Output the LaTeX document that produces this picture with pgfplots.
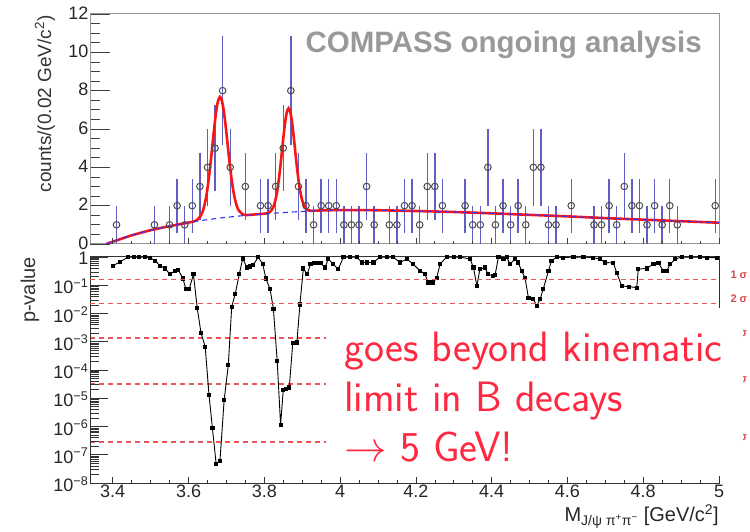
\RequirePackage{fix-cm}
\documentclass[border=0pt]{standalone}
\usepackage{pgfplots}
\usepackage{pgfplotstable}
\pgfplotsset{compat=1.18}
\usepackage{fontspec}
\setmainfont{Liberation Sans}
\definecolor{errblue}{RGB}{95,95,195}
\definecolor{fitred}{RGB}{250,20,20}
\definecolor{sigred}{RGB}{235,85,85}
\definecolor{annred}{RGB}{255,40,65}
\definecolor{framegray}{RGB}{150,150,150}

\pgfplotstableread{
x y e
3.41 1 1
3.51 1 1
3.55 1 1
3.57 2 1.414
3.59 1 1
3.61 2 1.414
3.63 3 1.732
3.65 4 2
3.67 5 2.236
3.69 8 2.828
3.71 4 2
3.75 3 1.732
3.79 2 1.414
3.81 2 1.414
3.83 3 1.732
3.85 5 2.236
3.87 8 2.828
3.89 3 1.732
3.91 2 1.414
3.93 1 1
3.95 2 1.414
3.97 2 1.414
3.99 2 1.414
4.01 1 1
4.03 1 1
4.05 1 1
4.07 3 1.732
4.09 1 1
4.13 1 1
4.15 1 1
4.17 2 1.414
4.19 2 1.414
4.21 1 1
4.23 3 1.732
4.25 3 1.732
4.27 2 1.414
4.33 2 1.414
4.35 1 1
4.37 1 1
4.39 4 2
4.41 1 1
4.43 2 1.414
4.45 1 1
4.47 2 1.414
4.49 1 1
4.51 4 2
4.53 4 2
4.55 1 1
4.57 1 1
4.61 2 1.414
4.67 1 1
4.69 1 1
4.71 2 1.414
4.73 1 1
4.75 3 1.732
4.77 2 1.414
4.79 2 1.414
4.81 1 1
4.83 2 1.414
4.85 1 1
4.87 2 1.414
4.89 1 1
4.99 2 1.414
}\histdata

\begin{document}
\begin{tikzpicture}[x=1pt,y=1pt]
\path[use as bounding box] (0,0) rectangle (750,532);

% ---------------- top panel ----------------
\begin{axis}[at={(90pt,288pt)}, anchor=south west, scale only axis,
  width=629pt, height=230pt,
  xmin=3.34, xmax=5, ymin=0, ymax=12,
  xtick=\empty, ytick={0,2,4,6,8,10,12}, minor y tick num=3,
  ytick pos=left, tick align=inside,
  major tick length=20pt, minor tick length=10pt,
  axis line style={framegray, line width=1pt},
  every tick/.style={black!75, line width=0.7pt},
  /pgf/number format/assume math mode=true,
  yticklabel style={font=\fontsize{18}{20}\selectfont, text=black!85, inner xsep=1.5pt, inner ysep=0pt, yshift=1pt}]
\addplot[only marks, mark=o, mark size=3.3pt,
  mark options={fill=white, draw=black!70, line width=1pt},
  error bars/.cd, y dir=both, y explicit, error mark=none,
  error bar style={errblue, line width=1.4pt}]
  table[x=x, y=y, y error=e] {\histdata};
\addplot[fitred, line width=2.6pt, smooth, tension=0.4] coordinates {
(3.383,0) (3.40,0.12) (3.45,0.45) (3.50,0.72) (3.55,0.93) (3.60,1.12)
(3.613,1.17) (3.623,1.26) (3.633,1.50) (3.638,1.73) (3.643,2.11) (3.648,2.63)
(3.653,3.34) (3.658,4.19) (3.663,5.14) (3.668,6.09) (3.673,6.92) (3.678,7.47)
(3.683,7.68) (3.688,7.49) (3.693,6.96) (3.698,6.16) (3.703,5.24) (3.708,4.31)
(3.713,3.48) (3.718,2.80) (3.723,2.30) (3.728,1.95) (3.733,1.74) (3.743,1.55)
(3.753,1.51) (3.78,1.55) (3.804,1.59) (3.814,1.66) (3.819,1.76) (3.824,1.94)
(3.829,2.26) (3.834,2.76) (3.839,3.46) (3.844,4.34) (3.849,5.31) (3.854,6.20)
(3.859,6.84) (3.864,7.08) (3.869,6.85) (3.874,6.23) (3.879,5.34) (3.884,4.39)
(3.889,3.53) (3.894,2.83) (3.899,2.35) (3.904,2.04) (3.909,1.87) (3.914,1.78)
(3.924,1.73) (3.95,1.75) (4.0,1.77) (4.1,1.76) (4.2,1.72) (4.3,1.67) (4.4,1.60)
(4.5,1.52) (4.6,1.44) (4.7,1.35) (4.8,1.27) (4.9,1.19) (5.0,1.11)};
\addplot[blue!80, line width=1.1pt, dash pattern=on 5pt off 4pt, smooth] coordinates {
(3.383,0) (3.40,0.12) (3.45,0.45) (3.50,0.72) (3.55,0.93) (3.60,1.12) (3.65,1.27)
(3.70,1.39) (3.75,1.49) (3.80,1.57) (3.85,1.64) (3.90,1.70) (3.95,1.75) (4.0,1.77)
(4.1,1.76) (4.2,1.72) (4.3,1.67) (4.4,1.60) (4.5,1.52) (4.6,1.44) (4.7,1.35)
(4.8,1.27) (4.9,1.19) (5.0,1.11)};
\end{axis}
% x ticks of top panel
\begin{axis}[at={(90pt,288pt)}, anchor=south west, scale only axis,
  width=629pt, height=230pt, xmin=3.34, xmax=5, ymin=0, ymax=12,
  axis line style={draw=none}, ytick=\empty,
  xtick={3.4,3.6,3.8,4,4.2,4.4,4.6,4.8,5}, minor x tick num=3, xticklabels={},
  xtick pos=left, tick align=inside, major tick length=6pt, minor tick length=3pt,
  every tick/.style={black!75, line width=0.7pt}]
\end{axis}

\node[anchor=base west, font=\fontsize{29.5}{32}\selectfont\bfseries, text=black!40] at (302,479) {COMPASS ongoing analysis};
\node[rotate=90, font=\fontsize{19}{21}\selectfont, text=black!80] at (45,428) {counts/(0.02 GeV/c\textsuperscript{2})};

% ---------------- bottom panel: 3-5 sigma lines (under the text box) ----------------
\begin{axis}[at={(90pt,49pt)}, anchor=south west, scale only axis,
  width=629pt, height=227pt, clip=false, hide axis,
  xmin=3.34, xmax=5, ymode=log, ymin=1e-8, ymax=1.09]
\addplot[color=sigred, line width=1.5pt, dash pattern=on 5pt off 4pt] coordinates {(3.34,0.00135) (5,0.00135)};
\addplot[color=sigred, line width=1.5pt, dash pattern=on 5pt off 4pt] coordinates {(3.34,3.167e-5) (5,3.167e-5)};
\addplot[color=sigred, line width=1.5pt, dash pattern=on 5pt off 4pt] coordinates {(3.34,2.867e-7) (5,2.867e-7)};
\node[anchor=west, xshift=8pt, yshift=5pt, font=\fontsize{11}{12}\selectfont\bfseries, text=sigred!90!black] at (axis cs:5,0.00135) {3 σ};
\node[anchor=west, xshift=8pt, yshift=5pt, font=\fontsize{11}{12}\selectfont\bfseries, text=sigred!90!black] at (axis cs:5,3.167e-5) {4 σ};
\node[anchor=west, xshift=8pt, yshift=5pt, font=\fontsize{11}{12}\selectfont\bfseries, text=sigred!90!black] at (axis cs:5,2.867e-7) {5 σ};
\end{axis}

% ---------------- bottom panel: frame, ticks, p-value scan ----------------
\begin{axis}[at={(90pt,49pt)}, anchor=south west, scale only axis,
  width=629pt, height=227pt,
  xmin=3.34, xmax=5, ymode=log, ymin=1e-8, ymax=1.09,
  xtick=\empty,
  ytick={1e-8,1e-7,1e-6,1e-5,1e-4,1e-3,1e-2,1e-1,1},
  yticklabels={10\textsuperscript{−8},10\textsuperscript{−7},10\textsuperscript{−6},10\textsuperscript{−5},10\textsuperscript{−4},10\textsuperscript{−3},10\textsuperscript{−2},10\textsuperscript{−1},1},
  ytick pos=left, tick align=inside,
  major tick length=18pt, minor tick length=9pt,
  axis line style={black!80, line width=0.9pt},
  every tick/.style={black!80, line width=0.6pt},
  /pgf/number format/assume math mode=true,
  yticklabel style={font=\fontsize{18}{20}\selectfont, text=black!85, inner xsep=1.5pt, inner ysep=0pt, yshift=-1pt}]
\addplot[black, line width=0.9pt, mark=square*, mark size=1.6pt] coordinates {
(3.400,0.490) (3.419,0.676) (3.441,1) (3.455,1) (3.470,1) (3.485,1) (3.498,0.955)
(3.512,0.741) (3.525,0.490) (3.538,0.398) (3.551,0.245) (3.564,0.324) (3.573,0.355)
(3.585,0.174) (3.593,0.0759) (3.602,0.0759) (3.613,0.245) (3.623,0.0158)
(3.633,0.00204) (3.644,6.76e-4) (3.654,1.35e-5) (3.663,8.9e-7) (3.673,4.68e-8)
(3.683,6.17e-8) (3.694,8.5e-6) (3.705,1.51e-4) (3.714,0.0174) (3.723,0.0479)
(3.734,0.245) (3.743,0.891) (3.754,0.427) (3.762,0.468) (3.771,0.525) (3.784,1)
(3.796,0.562) (3.804,0.174) (3.815,0.0759) (3.824,0.0148) (3.834,2.14e-4)
(3.843,1.15e-6) (3.850,1.95e-5) (3.858,2.19e-5) (3.866,2.4e-5) (3.875,8.9e-4)
(3.886,9.55e-4) (3.894,0.0209) (3.903,0.398) (3.913,0.245) (3.922,0.562)
(3.930,0.617) (3.938,0.617) (3.949,0.617) (3.960,0.427) (3.969,0.851) (3.982,0.562)
(3.995,0.372) (4.009,1) (4.026,1) (4.044,1) (4.057,0.646) (4.070,0.646) (4.088,0.646)
(4.105,1) (4.123,1) (4.140,1) (4.158,0.646) (4.176,0.851) (4.193,0.562) (4.211,0.324)
(4.224,0.245) (4.233,0.126) (4.246,0.126) (4.255,0.186) (4.264,0.562) (4.281,1)
(4.300,1) (4.317,1) (4.343,0.851) (4.352,0.427) (4.361,0.0955) (4.369,0.372)
(4.382,0.427) (4.391,0.245) (4.404,0.214) (4.409,0.229) (4.418,1) (4.431,0.851)
(4.440,1) (4.448,0.562) (4.462,0.851) (4.470,0.646) (4.479,0.324) (4.488,0.186)
(4.497,0.0363) (4.510,0.0331) (4.519,0.0182) (4.528,0.0331) (4.536,0.0724)
(4.550,0.324) (4.558,0.741) (4.572,1) (4.589,0.955) (4.616,1) (4.642,1) (4.668,0.955)
(4.686,0.851) (4.699,0.646) (4.721,0.617) (4.730,0.282) (4.743,0.0955) (4.763,0.0891)
(4.783,0.0832) (4.787,0.372) (4.809,0.398) (4.827,0.562) (4.840,0.617) (4.853,0.324)
(4.862,0.324) (4.871,0.562) (4.884,0.851) (4.902,1) (4.925,1) (4.950,1) (4.968,0.955)
(4.995,0.955)};
\end{axis}

% white box with annotation
\fill[white] (326,56) rectangle (743,224);
\node[anchor=base west, inner sep=0pt, font=\sffamily\fontsize{42.5}{50}\selectfont, text=annred] at (344,170) {goes beyond kinematic};
\node[anchor=base west, inner sep=0pt, font=\sffamily\fontsize{42.5}{50}\selectfont, text=annred] at (344,120) {limit in B decays};
\node[anchor=base west, inner sep=0pt, font=\sffamily\fontsize{42.5}{50}\selectfont, text=annred] at (344,70) {$\rightarrow$ 5 GeV!};

% x ticks + labels of bottom panel
\begin{axis}[at={(90pt,49pt)}, anchor=south west, scale only axis,
  width=629pt, height=227pt, xmin=3.34, xmax=5, ymin=0, ymax=1,
  axis line style={draw=none}, ytick=\empty,
  xtick={3.4,3.6,3.8,4,4.2,4.4,4.6,4.8,5},
  xticklabels={3.4,3.6,3.8,4,4.2,4.4,4.6,4.8,5},
  minor x tick num=3,
  xtick pos=left, tick align=inside, major tick length=6pt, minor tick length=3pt,
  every tick/.style={black!80, line width=0.6pt},
  xticklabel style={font=\fontsize{18}{20}\selectfont, text=black!85, inner ysep=2pt}]
\end{axis}

% 1 and 2 sigma lines, drawn last
\begin{axis}[at={(90pt,49pt)}, anchor=south west, scale only axis,
  width=629pt, height=227pt, clip=false, hide axis,
  xmin=3.34, xmax=5, ymode=log, ymin=1e-8, ymax=1.09]
\addplot[color=sigred, line width=1.6pt, dash pattern=on 5pt off 4pt] coordinates {(3.34,0.1587) (5,0.1587)};
\addplot[color=sigred, line width=1.6pt, dash pattern=on 5pt off 4pt] coordinates {(3.34,0.02275) (5,0.02275)};
\node[anchor=west, xshift=8pt, yshift=5pt, font=\fontsize{11}{12}\selectfont\bfseries, text=sigred!90!black] at (axis cs:5,0.1587) {1 σ};
\node[anchor=west, xshift=8pt, yshift=5pt, font=\fontsize{11}{12}\selectfont\bfseries, text=sigred!90!black] at (axis cs:5,0.02275) {2 σ};
\end{axis}

\node[rotate=90, font=\fontsize{20}{22}\selectfont, text=black!80] at (30,242) {p-value};
\node[anchor=base east, inner sep=0pt, font=\fontsize{20}{22}\selectfont, text=black!85] at (719,10) {M\textsubscript{J/ψ π\textsuperscript{+}π\textsuperscript{−}} [GeV/c\textsuperscript{2}]};
\end{tikzpicture}
\end{document}
